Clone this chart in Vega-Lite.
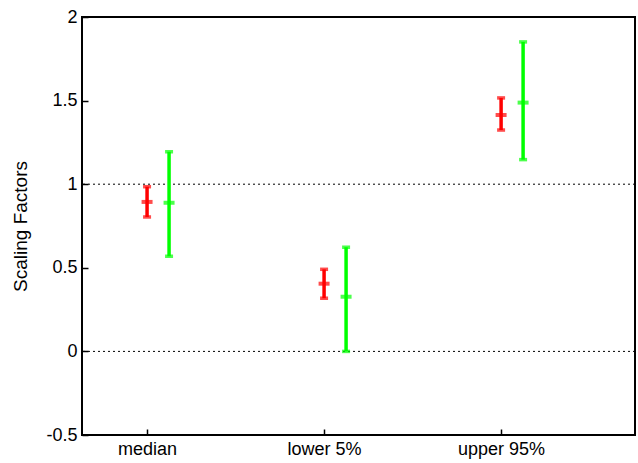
{
  "$schema": "https://vega.github.io/schema/vega-lite/v6.json",
  "width": 553,
  "height": 418,
  "autosize": {"type": "none"},
  "padding": {"left": 82, "top": 17, "right": 3, "bottom": 28},
  "background": "white",
  "config": {
    "view": {"stroke": "black", "strokeWidth": 2},
    "font": "Liberation Sans",
    "axis": {"grid": false, "domain": false, "labelFont": "Liberation Sans", "titleFont": "Liberation Sans", "labelColor": "black", "titleColor": "black", "tickColor": "black"}
  },
  "data": {
    "values": [
      {"stat": "median", "series": "A", "lo": 0.804, "mid": 0.894, "hi": 0.985},
      {"stat": "median", "series": "B", "lo": 0.569, "mid": 0.889, "hi": 1.194},
      {"stat": "lower 5%", "series": "A", "lo": 0.318, "mid": 0.405, "hi": 0.491},
      {"stat": "lower 5%", "series": "B", "lo": 0.0, "mid": 0.327, "hi": 0.623},
      {"stat": "upper 95%", "series": "A", "lo": 1.324, "mid": 1.414, "hi": 1.516},
      {"stat": "upper 95%", "series": "B", "lo": 1.147, "mid": 1.488, "hi": 1.851}
    ]
  },
  "encoding": {
    "x": {
      "field": "stat", "type": "nominal", "sort": ["median", "lower 5%", "upper 95%"],
      "scale": {"type": "point", "padding": 0.562, "align": 0.327},
      "axis": {"title": null, "labelAngle": 0, "labelFontSize": 18, "tickSize": -6, "tickWidth": 1.5, "labelPadding": 11}
    },
    "xOffset": {"field": "series", "type": "nominal", "scale": {"type": "point", "range": [0, 22], "padding": 0}},
    "color": {"field": "series", "type": "nominal", "scale": {"domain": ["A", "B"], "range": ["#ff0000", "#00ff00"]}, "legend": null}
  },
  "layer": [
    {
      "data": {"values": [{"ref": 0}, {"ref": 1}]},
      "mark": {"type": "rule", "color": "black", "strokeWidth": 1, "strokeDash": [2, 3]},
      "encoding": {
        "x": null, "xOffset": null, "color": null,
        "y": {"field": "ref", "type": "quantitative", "scale": {"domain": [-0.5, 2]}}
      }
    },
    {
      "mark": {"type": "rule", "strokeWidth": 3.5},
      "encoding": {
        "y": {
          "field": "lo", "type": "quantitative",
          "scale": {"domain": [-0.5, 2], "nice": false, "zero": false},
          "axis": {"title": "Scaling Factors", "titleFontSize": 19, "titleFontWeight": "normal", "titlePadding": 15, "labelFontSize": 18, "values": [-0.5, 0, 0.5, 1, 1.5, 2], "labelExpr": "'' + datum.value", "tickSize": -6, "tickWidth": 1.5, "labelPadding": 11}
        },
        "y2": {"field": "hi"}
      }
    },
    {
      "mark": {"type": "tick", "orient": "horizontal", "size": 8, "thickness": 3.5},
      "encoding": {"y": {"field": "lo", "type": "quantitative"}}
    },
    {
      "mark": {"type": "tick", "orient": "horizontal", "size": 8, "thickness": 3.5},
      "encoding": {"y": {"field": "hi", "type": "quantitative"}}
    },
    {
      "mark": {"type": "tick", "orient": "horizontal", "size": 11, "thickness": 4},
      "encoding": {"y": {"field": "mid", "type": "quantitative"}}
    }
  ]
}
